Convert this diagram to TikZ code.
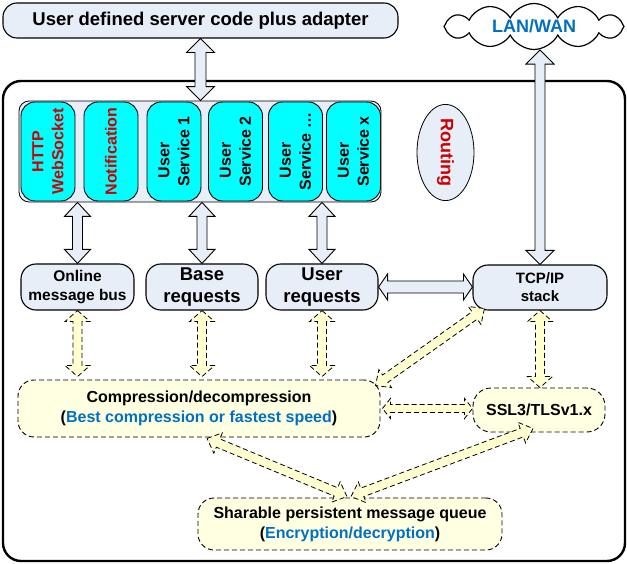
\documentclass[tikz,border=0pt]{standalone}
\usepackage{fontspec}
\setmainfont{Liberation Sans}
\usetikzlibrary{shapes.geometric,shapes.symbols,calc}
\definecolor{boxblue}{RGB}{232,238,247}
\definecolor{cyanbox}{RGB}{0,255,255}
\definecolor{redtxt}{RGB}{204,0,0}
\definecolor{bluetxt}{RGB}{0,112,192}
\definecolor{paleyellow}{RGB}{255,255,226}
\definecolor{arrowyellow}{RGB}{255,255,208}
% block double arrow: #1 style, #2 from, #3 to, #4 head length, #5 head half width, #6 shaft half width
\newcommand\blkarrow[6]{%
  \path #2; \pgfgetlastxy{\bxa}{\bya}%
  \path #3; \pgfgetlastxy{\bxb}{\byb}%
  \pgfmathsetmacro\bang{atan2(\byb-\bya,\bxb-\bxa)}%
  \pgfmathsetmacro\blen{veclen(\bxb-\bxa,\byb-\bya)}%
  \pgfmathsetmacro\bmid{\blen-#4}%
  \draw[#1, shift={(\bxa,\bya)}, rotate=\bang]
    (0pt,0pt) -- (#4pt,#5pt) -- (#4pt,#6pt) -- (\bmid pt,#6pt) -- (\bmid pt,#5pt)
    -- (\blen pt,0pt) -- (\bmid pt,-#5pt) -- (\bmid pt,-#6pt) -- (#4pt,-#6pt)
    -- (#4pt,-#5pt) -- cycle;
}
\begin{document}
\begin{tikzpicture}[x=1pt,y=-1pt,
  solidbox/.style={draw=black, line width=1.1pt, fill=boxblue, rounded corners=15pt, inner sep=0pt, align=center},
  dashbox/.style={draw=black, line width=0.9pt, dash pattern=on 5pt off 3pt, fill=paleyellow, rounded corners=16pt, inner sep=0pt, align=center, font=\bfseries\fontsize{16}{20}\selectfont},
  svcbox/.style={draw=black, line width=0.9pt, fill=cyanbox, rounded corners=14pt, rotate=90, minimum width=99pt, minimum height=54pt, inner sep=0pt, align=center, font=\bfseries\fontsize{16}{20}\selectfont},
  solidarrow/.style={draw=black, line width=0.9pt, fill=boxblue},
  dasharrow/.style={draw=black, line width=0.8pt, dash pattern=on 5pt off 3pt, fill=arrowyellow},
]
\useasboundingbox (0,0) rectangle (627,564);

% top elements
\node[solidbox, rounded corners=14pt, minimum width=395pt, minimum height=35pt, font=\bfseries\fontsize{18.5}{22}\selectfont] (top) at (200.5,20.5) {User defined server code plus adapter};
\node[cloud, cloud puffs=12, cloud puff arc=125, cloud ignores aspect, draw=black, line width=1.2pt, fill=white, minimum width=180pt, minimum height=46pt, inner sep=0pt, font=\bfseries\fontsize{18}{22}\selectfont, text=bluetxt] (net) at (534,26.5) {LAN/WAN};

% main container
\node[draw=black, line width=2.4pt, rounded corners=18pt, minimum width=622pt, minimum height=480pt, inner sep=0pt] (core) at (314,321) {};

% service strip
\node[draw=black, line width=0.8pt, fill=boxblue, rounded corners=10pt, minimum width=362pt, minimum height=101pt, inner sep=0pt] (strip) at (200,151.5) {};
\node[svcbox, text=redtxt] (ws) at (48,151.5) {HTTP\\WebSocket};
\node[svcbox, text=redtxt] (notif) at (111,151.5) {Notification};
\node[svcbox] (us1) at (174,151.5) {User\hphantom{xx}\\Service 1};
\node[svcbox] (us2) at (235.5,151.5) {User\hphantom{xx}\\Service 2};
\node[svcbox] (us3) at (295.5,151.5) {User\hphantom{xx}\\Service \dots};
\node[svcbox] (us4) at (353.5,151.5) {User\hphantom{xx}\\Service x};

\node[ellipse, draw=black, line width=0.8pt, fill=boxblue, rotate=-90, minimum width=95pt, minimum height=57pt, inner sep=0pt, text=redtxt, font=\bfseries\fontsize{18}{22}\selectfont] (routing) at (445.5,152.5) {Routing};

% request row
\node[solidbox, minimum width=113pt, minimum height=46pt, font=\bfseries\fontsize{15.5}{19}\selectfont] (online) at (77.5,287) {Online\\message bus};
\node[solidbox, minimum width=112pt, minimum height=46pt, font=\bfseries\fontsize{18.5}{22}\selectfont] (base) at (202,287) {Base\\requests};
\node[solidbox, minimum width=112pt, minimum height=46pt, font=\bfseries\fontsize{18.5}{22}\selectfont] (user) at (322,287) {User\\requests};
\node[solidbox, minimum width=134pt, minimum height=45pt, font=\bfseries\fontsize{15}{18}\selectfont] (tcp) at (540,287.5) {TCP/IP\\stack};

% lower boxes
\node[dashbox, minimum width=362pt, minimum height=57pt] (comp) at (199,408.5) {Compression/decompression\\(\textcolor{bluetxt}{Best compression or fastest speed})};
\node[dashbox, rounded corners=18pt, minimum width=132pt, minimum height=44pt] (ssl) at (539,410) {SSL3/TLSv1.x};
\node[dashbox, minimum width=304pt, minimum height=52pt] (queue) at (350,524) {Sharable persistent message queue\\(\textcolor{bluetxt}{Encryption/decryption})};

% solid block arrows
\blkarrow{solidarrow}{(top.south)}{(top.south |- strip.north)}{14}{14}{5.5}
\blkarrow{solidarrow}{(tcp.north |- net.south)}{(tcp.north)}{14}{14}{5}
\blkarrow{solidarrow}{(strip.south -| online.north)}{(online.north)}{14}{13}{5}
\blkarrow{solidarrow}{(strip.south -| base.north)}{(base.north)}{14}{13}{5}
\blkarrow{solidarrow}{(strip.south -| user.north)}{(user.north)}{14}{13}{5}
\blkarrow{solidarrow}{(user.east)}{(user.east -| tcp.west)}{9}{13}{6}

% dashed block arrows
\blkarrow{dasharrow}{(online.south)}{($(online.south |- comp.north)+(0,-3)$)}{11}{12.5}{4.5}
\blkarrow{dasharrow}{(base.south)}{($(base.south |- comp.north)+(0,-3)$)}{11}{12.5}{4.5}
\blkarrow{dasharrow}{(user.south)}{($(user.south |- comp.north)+(0,-3)$)}{11}{12.5}{4.5}
\blkarrow{dasharrow}{(tcp.south)}{(tcp.south |- ssl.north)}{11}{12.5}{4.5}
\blkarrow{dasharrow}{($(comp.east)+(2,0)$)}{(comp.east -| ssl.west)}{8}{10}{4}
\blkarrow{dasharrow}{($(tcp.south west)+(12,-2)$)}{($(comp.north east)+(-5,6)$)}{12}{11}{4.5}
\blkarrow{dasharrow}{($(comp.south)+(8,1)$)}{($(queue.north)+(-3,-1)$)}{12}{11}{4.5}
\blkarrow{dasharrow}{($(ssl.south)+(-6,-4)$)}{($(queue.north)+(1,-1)$)}{12}{11}{4.5}
\end{tikzpicture}
\end{document}
